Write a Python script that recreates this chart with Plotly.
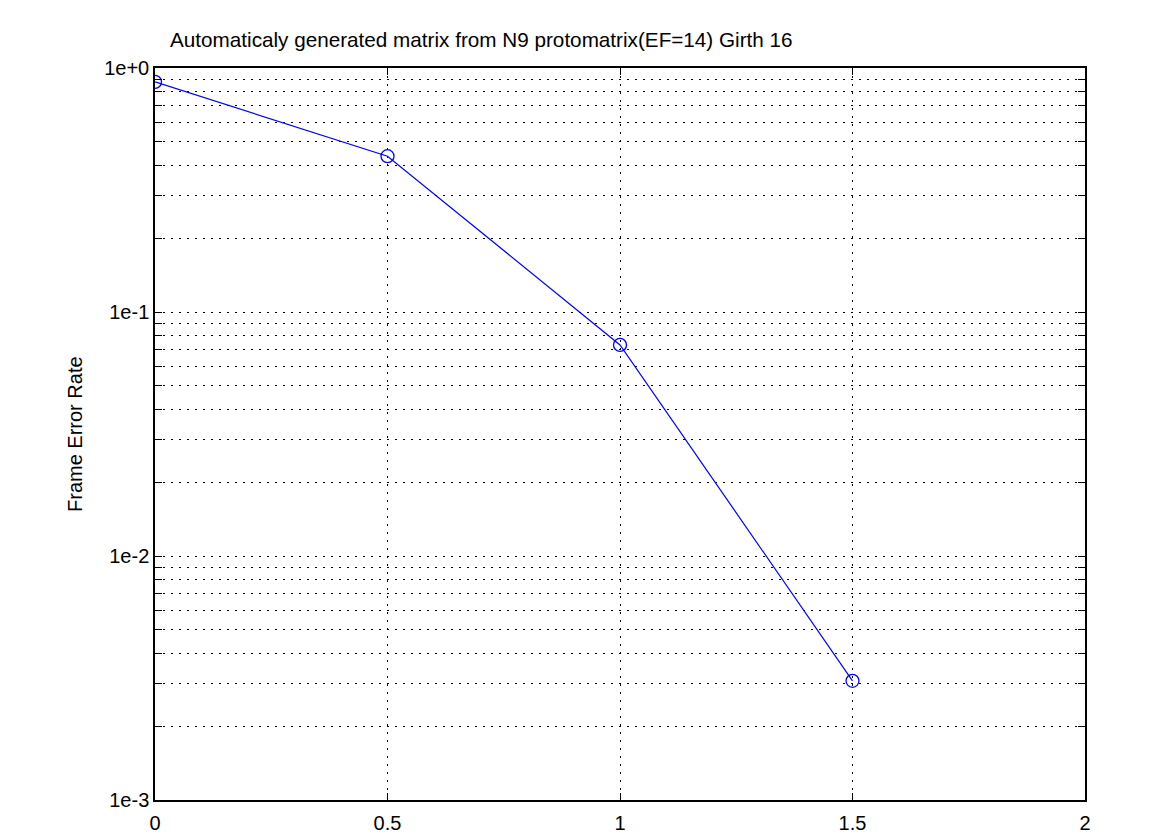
import plotly.graph_objects as go

snr = [0, 0.5, 1, 1.5]
fer = [0.877, 0.435, 0.0733, 0.00308]

title_text = "Automaticaly generated matrix from N9 protomatrix(EF=14) Girth 16"
y_label = "Frame Error Rate"
x_ticks = [0, 0.5, 1, 1.5, 2]
x_ticktext = ["0", "0.5", "1", "1.5", "2"]
decades = [1e-3, 1e-2, 1e-1, 1e0]
decade_text = ["1e-3", "1e-2", "1e-1", "1e+0"]

yvals, ytext = [], []
for d, t in zip(decades, decade_text):
    yvals.append(d)
    ytext.append(t)
    if d < 1:
        for m in range(2, 10):
            yvals.append(d * m)
            ytext.append("")

# page body has an 8px margin; figure sized to fit the window
W, H = 1159, 827
L, R, T, B = 147, 82, 60, 35
pw = W - L - R

fig = go.Figure()
fig.add_trace(go.Scatter(
    x=snr, y=fer, mode="lines+markers",
    line=dict(color="#0000ff", width=1.2),
    marker=dict(symbol="circle-open", size=13, color="#0000ff", line=dict(width=1.3)),
    showlegend=False,
))

font = dict(family="Liberation Sans, Arial, sans-serif", size=20, color="black")

fig.update_layout(
    width=W, height=H,
    paper_bgcolor="white", plot_bgcolor="white",
    margin=dict(l=L, r=R, t=T, b=B, autoexpand=False),
    font=font,
    title=dict(text=title_text, x=162 / W, xanchor="left", y=1 - 32 / H, yanchor="middle",
               font=dict(family="Liberation Sans, Arial, sans-serif", size=20.7, color="black"),
               automargin=False),
    xaxis=dict(
        range=[0, 2], tickvals=x_ticks, ticktext=x_ticktext, automargin=False,
        showgrid=True, gridcolor="black", griddash="2px,6px", gridwidth=1,
        ticks="inside", ticklen=7, tickcolor="black", ticklabelstandoff=4,
        showline=True, linecolor="black", linewidth=1.5, mirror="ticks",
        zeroline=False, tickfont=font,
    ),
    yaxis=dict(
        type="log", range=[-3, 0], tickvals=yvals, ticktext=ytext, automargin=False,
        showgrid=True, gridcolor="black", griddash="2px,6px", gridwidth=1,
        ticks="inside", ticklen=7, tickcolor="black",
        showline=True, linecolor="black", linewidth=1.5, mirror="ticks",
        zeroline=False, tickfont=font,
    ),
    annotations=[dict(
        text=y_label, textangle=-90, showarrow=False,
        xref="paper", yref="paper", x=(67 - L) / pw, y=0.5,
        xanchor="center", yanchor="middle", font=font,
    )],
)

fig.write_html("out.html")
